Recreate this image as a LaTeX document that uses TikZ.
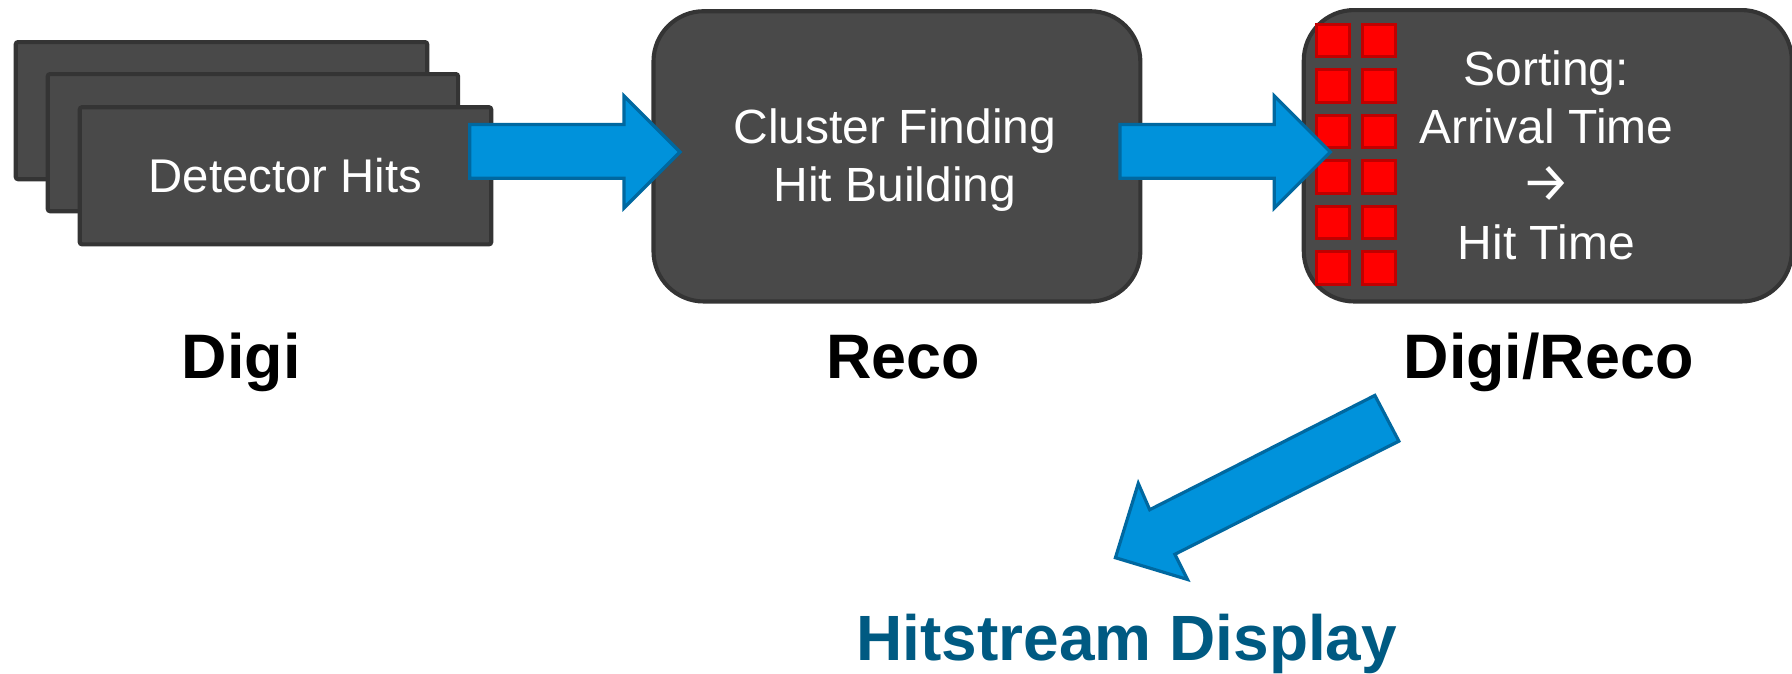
\documentclass[tikz,border=0pt]{standalone}
\usepackage{fontspec}
\setmainfont{Liberation Sans}
\newfontfamily\symfont{Fira Sans}
\definecolor{boxfill}{RGB}{73,73,73}
\definecolor{boxline}{RGB}{52,52,52}
\definecolor{arrfill}{RGB}{0,146,219}
\definecolor{arrline}{RGB}{0,104,160}
\definecolor{sqfill}{RGB}{255,0,0}
\definecolor{sqline}{RGB}{192,0,0}
\definecolor{hsblue}{RGB}{0,90,130}
\tikzset{
  hitbox/.style={draw=boxline, fill=boxfill, line width=1.8pt, rounded corners=1pt,
    anchor=north west, inner sep=0pt, minimum width=180pt, minimum height=60pt,
    text=white, font=\fontsize{20.7}{25}\selectfont},
  procbox/.style={draw=boxline, fill=boxfill, line width=1.8pt, rounded corners=22pt,
    anchor=north west, inner sep=0pt},
  boxtext/.style={text=white, align=center, inner sep=0pt, font=\fontsize{21}{25.4}\selectfont},
  hitsq/.style={draw=sqline, fill=sqfill, line width=1.3pt, minimum size=14.2pt, inner sep=0pt},
  blockarrow/.style={draw=arrline, fill=arrfill, line width=1.4pt, line join=miter},
  steplabel/.style={font=\bfseries\fontsize{27.5}{33}\selectfont, anchor=base, inner sep=0pt},
}
\begin{document}
\begin{tikzpicture}[x=0.5pt,y=-0.5pt]
\useasboundingbox (0,0) rectangle (1568,589);

% stacked detector hit sheets
\node[hitbox] (back) at (12,35) {};
\node[hitbox, minimum width=179.5pt] (mid) at (40,63) {};
\node[hitbox] (front) at (68,92) {Detector Hits};

% reco box
\node[procbox, minimum width=213pt, minimum height=127pt] (reco) at (570,8) {};
\node[boxtext] (recotext) at (783,140) {Cluster Finding\\Hit Building};

% digi/reco box
\node[procbox, minimum width=213.5pt, minimum height=127.5pt] (sort) at (1139,7) {};
\foreach \c/\x in {1/1166.5, 2/1206.5}{
  \foreach \r in {0,...,5}{
    \node[hitsq] (sq-\c-\r) at (\x, 35.5+39.8*\r) {};
  }
}
\node[boxtext] (sorttext) at (1353,136) {Sorting:\\Arrival Time\\{\symfont\fontsize{24}{25.4}\selectfont →}\\Hit Time};

% block arrows
\filldraw[blockarrow] (411,109) -- (546,109) -- (546,84) -- (595,133) -- (546,182) -- (546,156) -- (411,156) -- cycle;
\filldraw[blockarrow] (980,109) -- (1115,109) -- (1115,84) -- (1164,133) -- (1115,182) -- (1115,156) -- (980,156) -- cycle;
\filldraw[blockarrow] (1203,346) -- (1224,386) -- (1028,485) -- (1039,507) -- (976,488) -- (996,423) -- (1006,446) -- cycle;

% labels
\node[steplabel] (digi) at (211,331) {Digi};
\node[steplabel] (recolabel) at (790,331) {Reco};
\node[steplabel] (digireco) at (1355,331) {Digi/Reco};
\node[steplabel, text=hsblue, font=\bfseries\fontsize{28}{33}\selectfont] (hitstream) at (986,578) {Hitstream Display};
\end{tikzpicture}
\end{document}
